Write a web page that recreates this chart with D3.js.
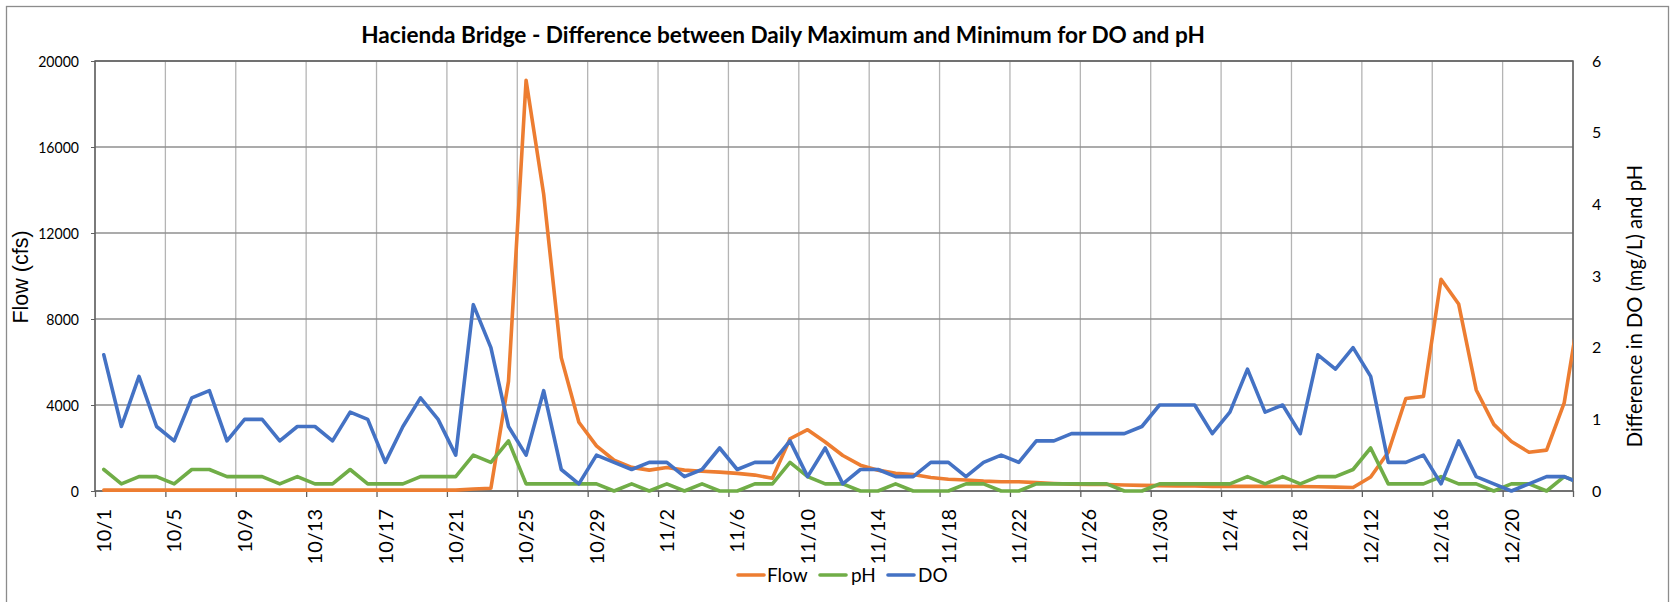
<!DOCTYPE html>
<html><head><meta charset="utf-8">
<script src="https://cdn.jsdelivr.net/npm/d3@7"></script>
<style>body{margin:0;background:#fff;} svg{display:block;}</style>
</head><body>
<svg id="chart" width="1676" height="602"></svg>
<script>
// ---- data ----
const titleText = "Hacienda Bridge - Difference between Daily Maximum and Minimum for DO and pH";
const leftTitle = "Flow (cfs)";
const rightTitle = "Difference in DO (mg/L) and pH";
const categories = [
 "10/1","10/2","10/3","10/4","10/5","10/6","10/7","10/8","10/9","10/10","10/11","10/12","10/13","10/14","10/15","10/16",
 "10/17","10/18","10/19","10/20","10/21","10/22","10/23","10/24","10/25","10/26","10/27","10/28","10/29","10/30","10/31",
 "11/1","11/2","11/3","11/4","11/5","11/6","11/7","11/8","11/9","11/10","11/11","11/12","11/13","11/14","11/15","11/16",
 "11/17","11/18","11/19","11/20","11/21","11/22","11/23","11/24","11/25","11/26","11/27","11/28","11/29","11/30",
 "12/1","12/2","12/3","12/4","12/5","12/6","12/7","12/8","12/9","12/10","12/11","12/12","12/13","12/14","12/15","12/16",
 "12/17","12/18","12/19","12/20","12/21","12/22","12/23","12/24"];
const axisLastCategory = "12/23";
const flow = [
 40,40,40,40,40,40,40,40,40,40,40,40,40,40,40,40,40,40,40,40,40,
 90,130,5100,19100,13800,6200,3200,2100,1430,1100,
 970,1090,970,920,880,820,740,590,2430,2850,2280,1650,1200,970,820,770,630,550,510,460,430,430,390,350,320,300,300,280,260,250,
 230,230,215,215,215,215,215,210,200,180,160,650,1800,4300,4400,9850,8700,4700,3100,2300,1800,1900,4100,9100];
const ph = [
 0.3,0.1,0.2,0.2,0.1,0.3,0.3,0.2,0.2,0.2,0.1,0.2,0.1,0.1,0.3,0.1,0.1,0.1,0.2,0.2,0.2,0.5,0.4,0.7,0.1,0.1,0.1,0.1,0.1,0,0.1,
 0,0.1,0,0.1,0,0,0.1,0.1,0.4,0.2,0.1,0.1,0,0,0.1,0,0,0,0.1,0.1,0,0,0.1,0.1,0.1,0.1,0.1,0,0,0.1,
 0.1,0.1,0.1,0.1,0.2,0.1,0.2,0.1,0.2,0.2,0.3,0.6,0.1,0.1,0.1,0.2,0.1,0.1,0,0.1,0.1,0,0.2,0.1];
const dissolvedO = [
 1.9,0.9,1.6,0.9,0.7,1.3,1.4,0.7,1.0,1.0,0.7,0.9,0.9,0.7,1.1,1.0,0.4,0.9,1.3,1.0,0.5,2.6,2.0,0.9,0.5,1.4,0.3,0.1,0.5,0.4,0.3,
 0.4,0.4,0.2,0.3,0.6,0.3,0.4,0.4,0.7,0.2,0.6,0.1,0.3,0.3,0.2,0.2,0.4,0.4,0.2,0.4,0.5,0.4,0.7,0.7,0.8,0.8,0.8,0.8,0.9,1.2,
 1.2,1.2,0.8,1.1,1.7,1.1,1.2,0.8,1.9,1.7,2.0,1.6,0.4,0.4,0.5,0.1,0.7,0.2,0.1,0.0,0.1,0.2,0.2,0.1];
const flowTicks = [0,4000,8000,12000,16000,20000];
const rightTicks = [0,1,2,3,4,5,6];
const labelEvery = 4;
const seriesNames = ["Flow","pH","DO"];
const seriesColors = ["#ED7D31","#70AD47","#4472C4"];

// ---- layout ----
const plot = {left: 95, right: 1573, top: 61, bottom: 491};
const svg = d3.select("#chart");
const font = "Lato, 'Open Sans', sans-serif";

svg.append("rect").attr("x",6.5).attr("y",6.5).attr("width",1662).attr("height",600)
  .attr("fill","#fff").attr("stroke","#8c8c8c").attr("stroke-width",1.3);

const nAxis = categories.indexOf(axisLastCategory) + 1;
const x = d3.scaleLinear().domain([-0.5, nAxis - 0.5]).range([plot.left, plot.right]);
const yL = d3.scaleLinear().domain([0, 20000]).range([plot.bottom, plot.top]);
const yR = d3.scaleLinear().domain([0, 6]).range([plot.bottom, plot.top]);

// gridlines
const gridX = d3.range(0, nAxis + 1, labelEvery).map(k => k - 0.5);
svg.append("g").selectAll("line").data(gridX).join("line")
  .attr("x1", d => x(d)).attr("x2", d => x(d)).attr("y1", plot.top).attr("y2", plot.bottom)
  .attr("stroke", "#b4b4b4").attr("stroke-width", 1.3);
svg.append("g").selectAll("line").data(flowTicks).join("line")
  .attr("x1", plot.left).attr("x2", plot.right).attr("y1", d => yL(d)).attr("y2", d => yL(d))
  .attr("stroke", "#8f8f8f").attr("stroke-width", 1.3);

// plot border
svg.append("rect").attr("x",plot.left).attr("y",plot.top).attr("width",plot.right-plot.left).attr("height",plot.bottom-plot.top)
  .attr("fill","none").attr("stroke","#5f5f5f").attr("stroke-width",1.5);

// left axis
const axL = svg.append("g").attr("transform",`translate(${plot.left},0)`)
  .call(d3.axisLeft(yL).tickValues(flowTicks).tickFormat(d3.format("d")).tickSize(4).tickPadding(12));
axL.select(".domain").remove();
axL.selectAll(".tick line").attr("stroke","#5f5f5f");
axL.selectAll("text").attr("font-family",font).attr("font-size",16).attr("fill","#000")
  .attr("transform","scale(0.88,1)").attr("x",-16/0.88);

// right axis
const axR = svg.append("g").attr("transform",`translate(${plot.right},0)`)
  .call(d3.axisRight(yR).tickValues(rightTicks).tickFormat(d3.format("d")).tickSize(0).tickPadding(19));
axR.select(".domain").remove();
axR.selectAll("text").attr("font-family",font).attr("font-size",16).attr("fill","#000");

// bottom axis
const tickIdx = d3.range(0, nAxis, labelEvery);
const axB = svg.append("g").attr("transform",`translate(0,${plot.bottom})`)
  .call(d3.axisBottom(x).tickValues(gridX).tickFormat("").tickSize(6));
axB.select(".domain").remove();
axB.selectAll(".tick line").attr("stroke","#5f5f5f").attr("stroke-width",1.3);
svg.append("g").selectAll("text").data(tickIdx).join("text")
  .attr("transform", d => `translate(${x(d)},${plot.bottom + 18}) rotate(-90)`)
  .attr("text-anchor","end").attr("dy","0.36em")
  .attr("font-family",font).attr("font-size",20).attr("fill","#000")
  .text(d => categories[d]);

// series
svg.append("clipPath").attr("id","pclip").append("rect")
  .attr("x",plot.left).attr("y",plot.top-10).attr("width",plot.right-plot.left).attr("height",plot.bottom-plot.top+20);
const seriesData = [
  {vals: flow, y: yL}, {vals: ph, y: yR}, {vals: dissolvedO, y: yR}
];
const g = svg.append("g").attr("clip-path","url(#pclip)");
seriesData.forEach((s, k) => {
  const line = d3.line().x((d,i) => x(i)).y(d => s.y(d));
  g.append("path").attr("d", line(s.vals)).attr("fill","none")
    .attr("stroke", seriesColors[k]).attr("stroke-width", 3.6)
    .attr("stroke-linejoin","round").attr("stroke-linecap","round");
});

// title
const t = svg.append("text").attr("font-family",font).attr("font-weight","bold").attr("font-size",22)
  .attr("text-anchor","middle").attr("fill","#000").text(titleText);
const tw = t.node().getComputedTextLength();
t.attr("transform",`translate(783,43) scale(${844/tw},1)`);

// axis titles
svg.append("text").attr("transform","translate(28,277) rotate(-90)")
  .attr("text-anchor","middle").attr("font-family","'Liberation Sans', Arial, sans-serif").attr("font-size",21.5)
  .attr("fill","#000").text(leftTitle);
svg.append("text").attr("transform","translate(1642,306) rotate(-90)")
  .attr("text-anchor","middle").attr("font-family",font).attr("font-size",20.2)
  .attr("fill","#000").text(rightTitle);

// legend
const legendItems = [
  {lx: 738, tx: 767}, {lx: 820, tx: 851}, {lx: 888, tx: 918}
];
const ly = 575;
const lg = svg.append("g");
seriesNames.forEach((name, k) => {
  lg.append("line").attr("x1",legendItems[k].lx).attr("x2",legendItems[k].lx+26).attr("y1",ly).attr("y2",ly)
    .attr("stroke",seriesColors[k]).attr("stroke-width",3.6).attr("stroke-linecap","round");
  lg.append("text").attr("x",legendItems[k].tx).attr("y",ly).attr("dy","0.35em")
    .attr("font-family",font).attr("font-size",19).attr("fill","#000").text(name);
});
</script>
</body></html>
